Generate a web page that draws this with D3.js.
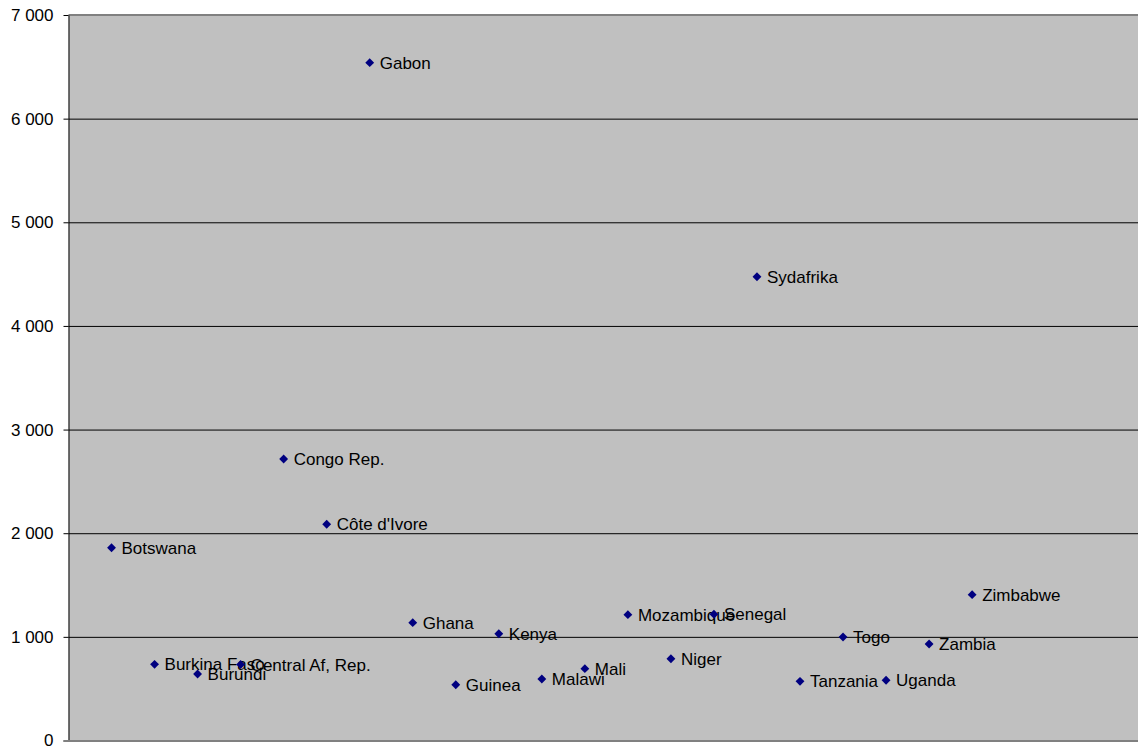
<!DOCTYPE html>
<html>
<head>
<meta charset="utf-8">
<script src="https://cdn.jsdelivr.net/npm/d3@7"></script>
<style>
  html, body { margin: 0; padding: 0; background: #ffffff; }
  svg { display: block; }
  text { font-family: "Liberation Sans", Arial, sans-serif; }
</style>
</head>
<body>
<svg id="chart" width="1138" height="747"></svg>
<script>
// Countries in plotting order (x = 1, 2, 3, ...)
const countries = [
  "Botswana", "Burkina Faso", "Burundi", "Central Af, Rep.", "Congo Rep.",
  "Côte d'Ivore", "Gabon", "Ghana", "Guinea", "Kenya", "Malawi", "Mali",
  "Mozambique", "Niger", "Senegal", "Sydafrika", "Tanzania", "Togo",
  "Uganda", "Zambia", "Zimbabwe"
];

// One value per country
const values = [
  1860, 735, 642, 733, 2716,
  2086, 6540, 1137, 538, 1030, 593, 693,
  1214, 789, 1218, 4475, 571, 999,
  581, 931, 1407
];

// Y axis tick values
const yTicks = [0, 1000, 2000, 3000, 4000, 5000, 6000, 7000];

const svg = d3.select("#chart");

const plotLeft = 68.5, plotTop = 15, plotBottom = 740.5;
const step = 43.03;

const x = d3.scaleLinear().domain([0, 25]).range([plotLeft, plotLeft + 25 * step]);
const y = d3.scaleLinear().domain([0, 7000]).range([plotBottom, plotTop]);

const locale = d3.formatLocale({ decimal: ",", thousands: " ", grouping: [3], currency: ["", ""] });
const fmt = locale.format(",d");

// Plot area background
svg.append("rect")
  .attr("x", plotLeft)
  .attr("y", plotTop)
  .attr("width", x(25) - plotLeft)
  .attr("height", plotBottom - plotTop)
  .attr("fill", "#c0c0c0");

// Horizontal gridlines
const grid = svg.append("g")
  .attr("transform", `translate(${plotLeft},0)`)
  .call(d3.axisLeft(y)
    .tickValues(yTicks.filter(d => d > 0 && d < 7000))
    .tickSize(-(x(25) - plotLeft))
    .tickFormat(""));
grid.select(".domain").remove();
grid.selectAll(".tick line").attr("stroke", "#000").attr("stroke-width", 1);

// Top border of the plot area
svg.append("line")
  .attr("x1", plotLeft).attr("x2", x(25))
  .attr("y1", y(7000)).attr("y2", y(7000))
  .attr("stroke", "#808080").attr("stroke-width", 2);

// Y axis
const yAxis = svg.append("g")
  .attr("transform", `translate(${plotLeft},0)`)
  .call(d3.axisLeft(y)
    .tickValues(yTicks)
    .tickSize(5)
    .tickSizeOuter(0)
    .tickPadding(10)
    .tickFormat(fmt));
yAxis.select(".domain").attr("stroke", "#000").attr("stroke-width", 1);
yAxis.selectAll(".tick line").attr("stroke", "#000");
yAxis.selectAll(".tick text")
  .attr("fill", "#000")
  .style("font-size", "17px")
  .style("font-family", "'Liberation Sans', Arial, sans-serif");

// Bottom axis line
svg.append("line")
  .attr("x1", plotLeft - 5).attr("x2", x(25))
  .attr("y1", y(0) + 0.5).attr("y2", y(0) + 0.5)
  .attr("stroke", "#808080").attr("stroke-width", 2);

// Data points with labels
const data = countries.map((c, i) => ({ name: c, idx: i + 1, value: values[i] }));

const diamond = d3.symbol().type(d3.symbolDiamond2).size(50);

const pts = svg.append("g").selectAll("g.pt")
  .data(data)
  .join("g")
  .attr("class", "pt")
  .attr("transform", d => `translate(${x(d.idx)},${y(d.value)})`);

pts.append("path")
  .attr("d", diamond)
  .attr("fill", "#000080");

pts.append("text")
  .attr("x", 10)
  .attr("y", 6)
  .attr("fill", "#000")
  .style("font-size", "17px")
  .text(d => d.name);
</script>
</body>
</html>
